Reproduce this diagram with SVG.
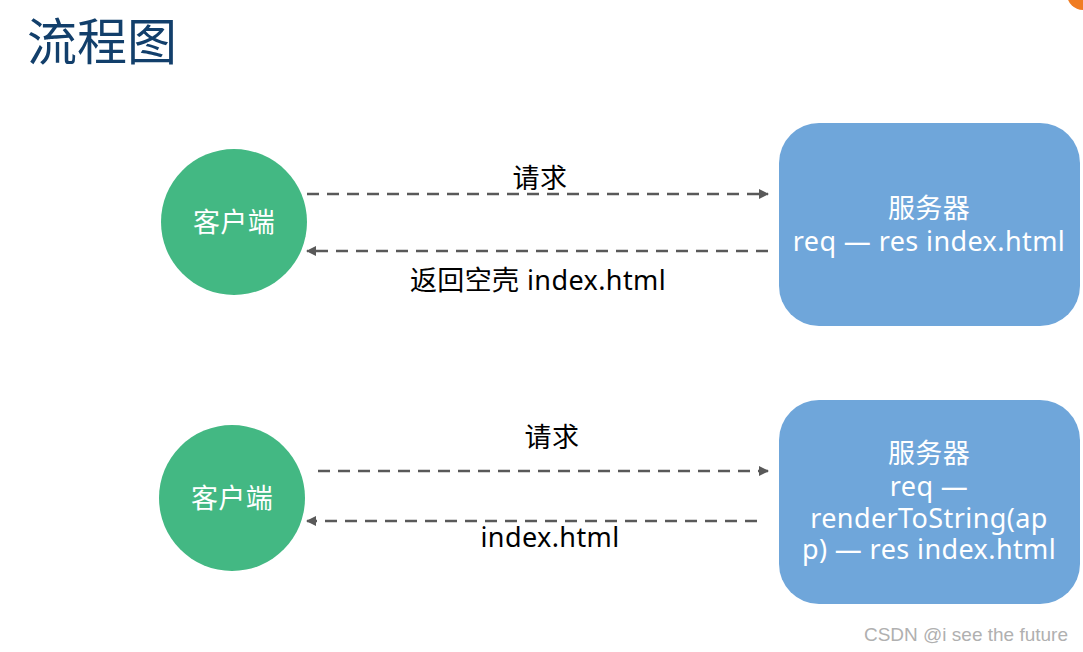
<svg xmlns="http://www.w3.org/2000/svg" width="1083" height="652" viewBox="0 0 1083 652">
<defs>
<style>
.t{font-family:"Noto Sans","Noto Sans CJK SC",sans-serif;}
.lbl{font-size:27px;letter-spacing:0.4px;fill:#000;text-anchor:middle;}
.node-t{font-size:27px;letter-spacing:0.4px;fill:#fff;text-anchor:middle;}
.client{fill:#43b883;}
.server{fill:#6fa6da;}
.conn{stroke:#595959;stroke-width:2.5;stroke-dasharray:12 8;fill:none;}
</style>
<marker id="ah" viewBox="0 0 10 10" refX="9" refY="5" markerWidth="4" markerHeight="4" orient="auto-start-reverse" markerUnits="strokeWidth">
<path d="M0,0 L10,5 L0,10 z" fill="#595959"/>
</marker>
</defs>
<rect width="1083" height="652" fill="#fff"/>
<circle cx="1083" cy="-6" r="16" fill="#f07c22"/>
<text class="t" x="27" y="60" font-size="50" fill="#123f6b">流程图</text>

<g id="client1"><circle class="client" cx="234" cy="222" r="73"/><text class="t node-t" x="234" y="232">客户端</text></g>
<g id="client2"><circle class="client" cx="232" cy="498" r="73"/><text class="t node-t" x="232" y="508">客户端</text></g>

<g id="server1"><rect class="server" x="779" y="123" width="301" height="203" rx="40"/>
<text class="t node-t" x="929" y="218"><tspan x="929">服务器</tspan><tspan x="929" dy="33">req — res index.html</tspan></text></g>
<g id="server2"><rect class="server" x="779" y="400" width="301" height="204" rx="40"/>
<text class="t node-t" x="929" y="463"><tspan x="929">服务器</tspan><tspan x="929" dy="33">req —</tspan><tspan x="929" dy="32">renderToString(ap</tspan><tspan x="929" dy="31">p) — res index.html</tspan></text></g>

<g id="connectors">
<line class="conn" x1="307" y1="194" x2="768" y2="194" marker-end="url(#ah)"/>
<line class="conn" x1="768" y1="251" x2="307" y2="251" marker-end="url(#ah)"/>
<line class="conn" x1="318" y1="471" x2="768" y2="471" marker-end="url(#ah)"/>
<line class="conn" x1="757" y1="521" x2="307" y2="521" marker-end="url(#ah)"/>
<text class="t lbl" x="540" y="188">请求</text>
<text class="t lbl" x="538" y="290">返回空壳 index.html</text>
<text class="t lbl" x="552" y="447">请求</text>
<text class="t lbl" x="550" y="547">index.html</text>
</g>
<text x="1068" y="641" font-family="Liberation Sans, Arial, sans-serif" font-size="19" fill="#b0b0b0" text-anchor="end">CSDN @i see the future</text>
</svg>
